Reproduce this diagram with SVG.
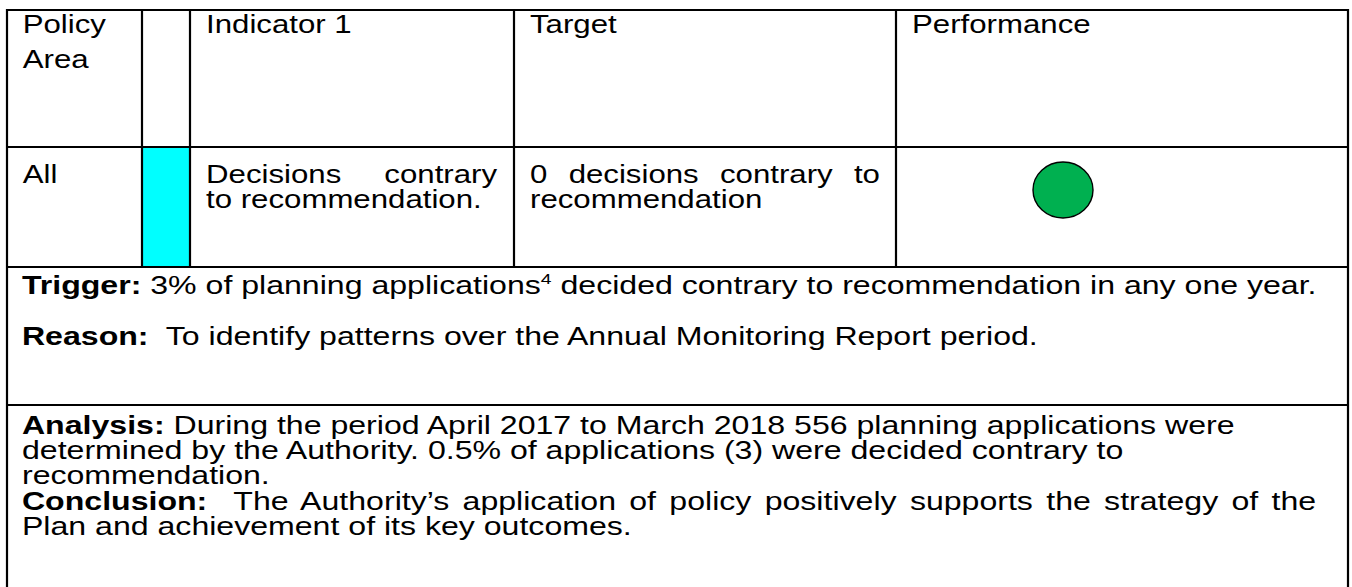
<svg xmlns="http://www.w3.org/2000/svg" width="1352" height="587" viewBox="0 0 1352 587">
<style>
.t{font-family:"Liberation Sans",Arial,sans-serif;font-size:25px;fill:#000}
.b{font-weight:bold}
.ln{stroke:#000;stroke-width:2.2;fill:none}
</style>
<rect width="1352" height="587" fill="#fff"/>
<g id="cyan-cell"><rect x="142" y="147" width="48" height="120" fill="#00FFFF"/></g>
<g id="grid">
<line class="ln" x1="7" y1="10" x2="1348" y2="10"/>
<line class="ln" x1="7" y1="147" x2="1348" y2="147"/>
<line class="ln" x1="7" y1="267" x2="1348" y2="267"/>
<line class="ln" x1="7" y1="405" x2="1348" y2="405"/>
<line class="ln" x1="7" y1="9" x2="7" y2="587"/>
<line class="ln" x1="1348" y1="9" x2="1348" y2="587"/>
<line class="ln" x1="142" y1="10" x2="142" y2="267"/>
<line class="ln" x1="190" y1="10" x2="190" y2="267"/>
<line class="ln" x1="514" y1="10" x2="514" y2="267"/>
<line class="ln" x1="896" y1="10" x2="896" y2="267"/>
</g>
<g id="performance-indicator"><ellipse cx="1063" cy="190" rx="30" ry="28" fill="#00B050" stroke="#000" stroke-width="1.4"/></g>
<g id="table-text" transform="scale(1.248,1)">
<g id="header-row">
<text class="t" x="18.2" y="33">Policy</text>
<text class="t" x="18.2" y="68">Area</text>
<text class="t" x="165.1" y="33">Indicator 1</text>
<text class="t" x="424.7" y="33">Target</text>
<text class="t" x="730.8" y="33">Performance</text>
</g>
<g id="body-row">
<text class="t" x="18.2" y="183">All</text>
<text class="t" x="165.1" y="183" word-spacing="27.6">Decisions contrary</text>
<text class="t" x="165.1" y="208">to recommendation.</text>
<text class="t" x="424.7" y="183" word-spacing="10.1">0 decisions contrary to</text>
<text class="t" x="424.7" y="208">recommendation</text>
</g>
</g>
<g id="notes-text" transform="scale(1.284,1)">
<g id="trigger">
<text class="t" x="17.1" y="294" xml:space="preserve"><tspan class="b">Trigger:</tspan> 3% of planning applications<tspan font-size="15" dy="-10">4</tspan><tspan dy="10"> decided contrary to recommendation in any one year.</tspan></text>
</g>
<g id="reason">
<text class="t" x="17.1" y="345" xml:space="preserve"><tspan class="b">Reason:</tspan>  To identify patterns over the Annual Monitoring Report period.</text>
</g>
<g id="analysis">
<text class="t" x="17.1" y="434" xml:space="preserve"><tspan class="b">Analysis:</tspan> During the period April 2017 to March 2018 556 planning applications were</text>
<text class="t" x="17.1" y="459">determined by the Authority. 0.5% of applications (3) were decided contrary to</text>
<text class="t" x="17.1" y="484">recommendation.</text>
</g>
<g id="conclusion">
<text class="t" x="17.1" y="510" xml:space="preserve" word-spacing="3.42"><tspan class="b">Conclusion:</tspan>  The Authority’s application of policy positively supports the strategy of the</text>
<text class="t" x="17.1" y="535">Plan and achievement of its key outcomes.</text>
</g>
</g>
</svg>
